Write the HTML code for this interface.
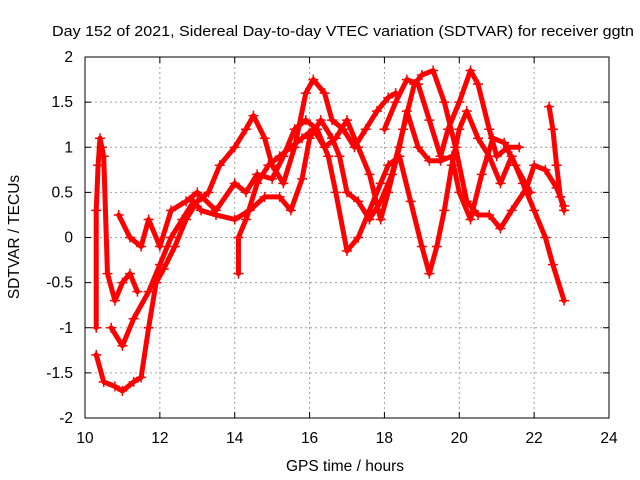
<!DOCTYPE html>
<html><head><meta charset="utf-8"><style>
body{margin:0;background:#fff}
svg{display:block;font-family:"Liberation Sans",sans-serif}
</style></head><body>
<svg width="640" height="480">
<rect width="640" height="480" fill="#fff"/>
<g id="grid"></g>
<g id="series"></g>
<rect x="85" y="57" width="524" height="361" fill="none" stroke="#000" stroke-width="1"/>
<g id="ticks"></g>
<text x="52" y="36" textLength="582" lengthAdjust="spacingAndGlyphs" font-size="15">Day 152 of 2021, Sidereal Day-to-day VTEC variation (SDTVAR) for receiver ggtn</text>
<text x="345" y="471" text-anchor="middle" font-size="15.5">GPS time / hours</text>
<text transform="translate(19,237) rotate(-90)" text-anchor="middle" font-size="15.5">SDTVAR / TECUs</text>
</svg>
<script>
const xTicks=[10,12,14,16,18,20,22,24];
const yTicks=[-2,-1.5,-1,-0.5,0,0.5,1,1.5,2];
const yTickLabels=["-2","-1.5","-1","-0.5","0","0.5","1","1.5","2"];
const s1T=[10.3,10.5,10.8,11.0,11.3,11.5,11.7,11.9,12.1,12.4,12.7,13.0,13.3,13.6,14.0,14.3,14.5,14.8,15.0,15.3,15.6,15.9,16.1,16.4,16.6,16.9,17.2,17.5,17.8,18.1,18.3];
const s1V=[-1.3,-1.6,-1.65,-1.7,-1.6,-1.55,-1.0,-0.5,-0.35,-0.1,0.2,0.4,0.5,0.8,1.0,1.2,1.35,1.1,0.8,0.6,1.0,1.6,1.75,1.6,1.3,1.2,1.0,1.2,1.4,1.55,1.6];
const s2T=[10.7,11.0,11.3,11.7,12.0,12.3,12.6,12.9,13.1,13.5,14.0,14.4,14.8,15.2,15.5,15.8,16.0,16.3,16.6,16.8,17.0,17.3,17.6,17.9,18.2,18.5,18.8,19.0,19.3,19.6,19.9,20.2,20.5,20.8,21.1,21.4,21.8,22.0,22.3,22.6,22.8];
const s2V=[-1.0,-1.2,-0.9,-0.6,-0.3,0.0,0.2,0.4,0.3,0.25,0.2,0.3,0.45,0.45,0.3,0.65,1.1,1.3,1.1,0.9,0.5,0.4,0.2,0.4,0.7,1.2,1.7,1.8,1.85,1.5,1.0,0.4,0.25,0.25,0.1,0.3,0.55,0.8,0.75,0.55,0.35];
const s3T=[10.9,11.2,11.5,11.7,12.0,12.3,12.7,13.0,13.5,14.0,14.3,14.6,15.0,15.3,15.6,15.9,16.2,16.5,16.7,17.0,17.3,17.6,17.9,18.1,18.4,18.7,19.0,19.2,19.4,19.6,19.8,20.0,20.2,20.5,20.8,21.1,21.4,21.7,22.0,22.3,22.5,22.8];
const s3V=[0.25,0.0,-0.1,0.2,-0.1,0.3,0.4,0.5,0.3,0.6,0.5,0.7,0.65,0.9,1.2,1.3,1.2,0.9,0.5,-0.15,0.0,0.3,0.6,0.8,0.9,0.4,-0.1,-0.4,-0.1,0.3,0.8,1.2,1.4,1.1,0.9,0.6,0.9,0.6,0.3,0.0,-0.3,-0.7];
const s4T=[14.1,14.1,14.3,14.6,14.9,15.2,15.5,15.8,16.1,16.4,16.7,17.0,17.3,17.6,17.9,18.1,18.4,18.6,18.9,19.2,19.5,19.8,20.0,20.3,20.6,20.9,21.2,21.5,21.9];
const s4V=[-0.4,0.0,0.2,0.6,0.8,0.9,1.0,1.1,1.2,1.0,1.1,1.3,1.0,0.7,0.2,0.5,1.0,1.4,1.0,0.85,0.85,0.9,0.5,0.2,0.7,1.1,1.05,0.8,0.5];
const s5T=[10.3,10.3,10.35,10.4,10.45,10.5,10.6,10.8,11.0,11.2,11.4];
const s5V=[-1.0,0.3,0.8,1.1,1.0,0.9,-0.4,-0.7,-0.5,-0.4,-0.6];
const s6T=[22.4,22.5,22.6,22.7,22.8];
const s6V=[1.45,1.2,0.8,0.45,0.3];
const s7T=[18.0,18.3,18.6,18.9,19.2,19.5,19.7,20.0,20.3,20.5,20.8,21.0,21.3,21.6];
const s7V=[1.2,1.5,1.75,1.7,1.3,0.9,1.2,1.5,1.85,1.7,1.2,0.9,1.0,1.0];
const allT=[s1T,s2T,s3T,s4T,s5T,s6T,s7T];
const allV=[s1V,s2V,s3V,s4V,s5V,s6V,s7V];

const NS="http://www.w3.org/2000/svg";
const X=t=>85+(t-10)*524/14;
const Y=v=>237.5-v*361/4;
function mk(tag,attrs,parent){const e=document.createElementNS(NS,tag);for(const k in attrs)e.setAttribute(k,attrs[k]);parent.appendChild(e);return e;}
const grid=document.getElementById('grid'),ticks=document.getElementById('ticks'),ser=document.getElementById('series');
xTicks.forEach((t,i)=>{
  if(i>0&&i<xTicks.length-1){const l=mk('line',{x1:X(t),x2:X(t),y1:57,y2:418,stroke:'#a0a0a0','stroke-dasharray':'2,3'},grid);
  
  }
  mk('line',{x1:X(t),x2:X(t),y1:418,y2:412,stroke:'#000'},ticks);
  mk('line',{x1:X(t),x2:X(t),y1:57,y2:63,stroke:'#000'},ticks);
  const tx=mk('text',{x:X(t),y:443,'text-anchor':'middle','font-size':15.5},ticks);tx.textContent=t;
  
  
});
yTicks.forEach((v,i)=>{
  if(i>0&&i<yTicks.length-1){const l=mk('line',{x1:85,x2:609,y1:Y(v),y2:Y(v),stroke:'#a0a0a0','stroke-dasharray':'2,3'},grid);
  
  }
  mk('line',{x1:85,x2:91,y1:Y(v),y2:Y(v),stroke:'#000'},ticks);
  mk('line',{x1:609,x2:603,y1:Y(v),y2:Y(v),stroke:'#000'},ticks);
  const tx=mk('text',{x:73,y:Y(v)+5,'text-anchor':'end','font-size':15.5},ticks);tx.textContent=yTickLabels[i];
  
  
});
allT.forEach((ts,si)=>{
  const vs=allV[si];
  const pts=ts.map((t,i)=>X(t)+','+Y(vs[i])).join(' ');
  const pl=mk('polyline',{points:pts,fill:'none',stroke:'#ff0000','stroke-width':5,'stroke-linejoin':'round','stroke-linecap':'round'},ser);
  
  
  ts.forEach((t,i)=>{
    const x=X(t),y=Y(vs[i]);
    const p=mk('path',{d:`M${x-5},${y}H${x+5}M${x},${y-5}V${y+5}`,stroke:'#ff0000','stroke-width':1.5},ser);
    
    
  });
});
</script>
</body></html>
